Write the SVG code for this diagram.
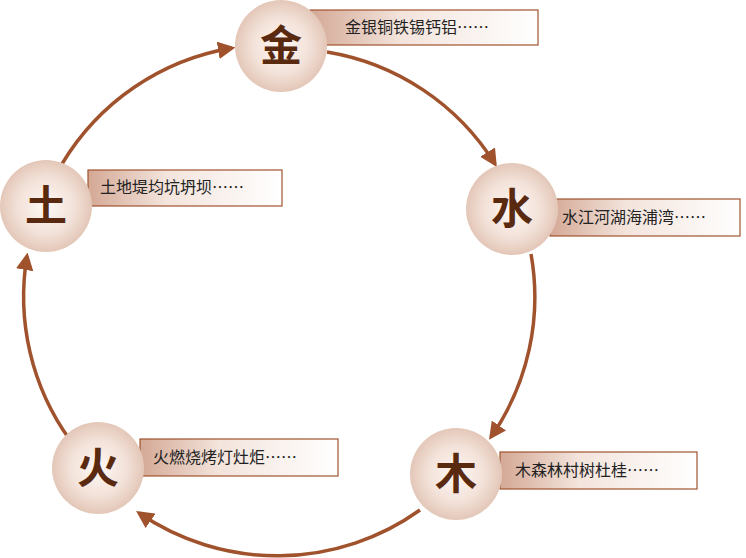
<svg xmlns="http://www.w3.org/2000/svg" width="746" height="558" viewBox="0 0 746 558">
<style>
.c{fill:url(#rg)}
.b{fill:url(#lg);stroke:#a0522d;stroke-width:1.2}
.k{font-family:"Noto Sans CJK SC",sans-serif;font-weight:bold;font-size:42px;fill:#5a2a10;text-anchor:middle}
.t{font-family:"Noto Sans CJK SC",serif;font-size:16px;fill:#222}
.e{fill:none;stroke:#a0522d;stroke-width:3.5;marker-end:url(#ah)}
</style>
<defs>
<radialGradient id="rg" cx="0.5" cy="0.5" r="0.5"><stop offset="0" stop-color="#fdf8f5"/><stop offset="0.6" stop-color="#f3e2d9"/><stop offset="1" stop-color="#e3c7b8"/></radialGradient>
<linearGradient id="lg" x1="0" x2="1"><stop offset="0" stop-color="#d4a895"/><stop offset="0.4" stop-color="#f3e4dc"/><stop offset="1" stop-color="#fff"/></linearGradient>
<marker id="ah" viewBox="0 0 10 10" refX="8" refY="5" markerWidth="5" markerHeight="5" orient="auto" markerUnits="strokeWidth"><path d="M0,0L10,5L0,10z" fill="#a0522d"/></marker>
</defs>
<g id="edges">
<path class="e" d="M327,52 A245,245 0 0 1 495,164"/>
<path class="e" d="M531,254 A245,245 0 0 1 491,437"/>
<path class="e" d="M420,510 A245,245 0 0 1 139,513"/>
<path class="e" d="M70,440 A245,245 0 0 1 27,256"/>
<path class="e" d="M62,164 A245,245 0 0 1 232,48"/>
</g>
<g id="jin"><rect class="b" x="310" y="10" width="228" height="35"/><circle class="c" cx="281" cy="46" r="46"/><text class="k" x="281" y="61">金</text><text class="t" x="345" y="33">金银铜铁锡钙铝……</text></g>
<g id="shui"><rect class="b" x="550" y="199" width="190" height="37"/><circle class="c" cx="512" cy="209" r="46"/><text class="k" x="512" y="224">水</text><text class="t" x="562" y="223">水江河湖海浦湾……</text></g>
<g id="mu"><rect class="b" x="500" y="452" width="197" height="37"/><circle class="c" cx="456" cy="474" r="46"/><text class="k" x="456" y="489">木</text><text class="t" x="515" y="476">木森林村树杜桂……</text></g>
<g id="huo"><rect class="b" x="140" y="439" width="198" height="37"/><circle class="c" cx="98" cy="468" r="46"/><text class="k" x="98" y="483">火</text><text class="t" x="153" y="463">火燃烧烤灯灶炬……</text></g>
<g id="tu"><rect class="b" x="88" y="170" width="194" height="36"/><circle class="c" cx="46" cy="206" r="46"/><text class="k" x="46" y="221">土</text><text class="t" x="100" y="193">土地堤均坑坍坝……</text></g>
</svg>
